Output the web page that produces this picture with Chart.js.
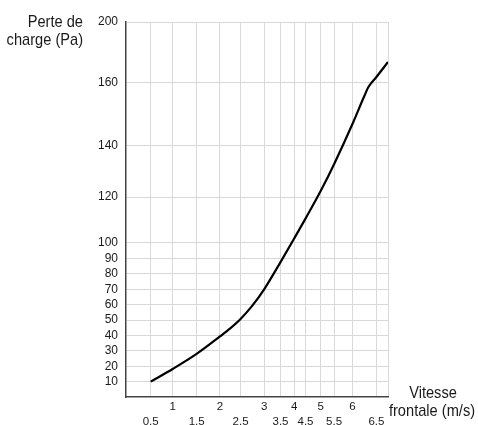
<!DOCTYPE html>
<html>
<head>
<meta charset="utf-8">
<script src="https://cdn.jsdelivr.net/npm/chart.js@4"></script>
<style>
  html, body { margin: 0; padding: 0; background: #fff; }
  #wrap { width: 478px; height: 425px; position: relative; }
</style>
</head>
<body>
<div id="wrap"><canvas id="graph1"></canvas></div>
<script>
// Valeurs
const vitesse = [0.5, 1, 1.5, 2, 2.25, 2.5, 2.75, 3, 3.5, 4, 4.5, 5, 5.5, 6, 6.25, 6.33, 6.5, 6.75];
const perte   = [10, 18.2, 28, 39.3, 44.6, 50.7, 59.3, 69.9, 87.6, 101.9, 110.6, 122.4, 132.7, 146.8, 155.8, 158.5, 163.7, 173.6];

const xTicks = [0.5, 1, 1.5, 2, 2.5, 3, 3.5, 4, 4.5, 5, 5.5, 6, 6.5, 6.75];
const yTicks = [10, 20, 30, 40, 50, 60, 70, 80, 90, 100, 120, 140, 160, 200];

// Echelles non lineaires du dessin original (valeur -> position relative)
const warps = {
    x: {
        values: [0, 0.5, 1, 1.5, 2, 2.5, 3, 3.5, 4, 4.5, 5, 5.5, 6, 6.5, 6.75],
        pos:    [0, 24.7, 46.7, 70.7, 94, 114.7, 138.3, 154.7, 168.3, 179.7, 195, 208.3, 226.7, 250.7, 262.3]
    },
    y: {
        values: [0, 100, 120, 140, 160, 200],
        pos:    [0, 154, 200, 251.7, 314.4, 375]
    }
};

function toDecimal(w, v) {
    const vs = w.values, ps = w.pos, total = ps[ps.length - 1];
    let i = 0;
    while (i < vs.length - 2 && v > vs[i + 1]) i++;
    const t = (v - vs[i]) / (vs[i + 1] - vs[i]);
    return (ps[i] + t * (ps[i + 1] - ps[i])) / total;
}

function fromDecimal(w, d) {
    const vs = w.values, ps = w.pos, total = ps[ps.length - 1];
    const p = d * total;
    let i = 0;
    while (i < ps.length - 2 && p > ps[i + 1]) i++;
    const t = (p - ps[i]) / (ps[i + 1] - ps[i]);
    return vs[i] + t * (vs[i + 1] - vs[i]);
}

class WarpScale extends Chart.LinearScale {
    getPixelForValue(value) {
        if (value === null || value === undefined) return NaN;
        return this.getPixelForDecimal(toDecimal(warps[this.id], value));
    }
    getValueForPixel(pixel) {
        return fromDecimal(warps[this.id], this.getDecimalForPixel(pixel));
    }
}
WarpScale.id = 'warp';
WarpScale.defaults = {};
Chart.register(WarpScale);

const fontFamily = "'Liberation Sans', Arial, sans-serif";

// Titres des axes (police un peu resserree comme l'original)
function condensedText(ctx, text, x, y, align) {
    ctx.save();
    ctx.translate(x, y);
    ctx.scale(0.86, 1);
    ctx.textAlign = align;
    ctx.fillText(text, 0, 0);
    ctx.restore();
}

const axisTitles = {
    id: 'axisTitles',
    afterDraw(chart) {
        const ctx = chart.ctx;
        ctx.save();
        ctx.fillStyle = '#1a1a1a';
        ctx.font = '17px ' + fontFamily;
        ctx.textBaseline = 'alphabetic';
        condensedText(ctx, 'Perte de', 83, 27, 'right');
        condensedText(ctx, 'charge (Pa)', 83, 45, 'right');
        condensedText(ctx, 'Vitesse', 433, 398, 'center');
        condensedText(ctx, 'frontale (m/s)', 432, 416, 'center');
        ctx.restore();
    }
};

const config = {
    type: 'line',
    data: {
        datasets: [{
            data: vitesse.map((v, i) => ({x: v, y: perte[i]})),
            borderColor: '#000',
            borderWidth: 2.2,
            pointRadius: 0,
            cubicInterpolationMode: 'monotone',
            fill: false
        }]
    },
    options: {
        responsive: true,
        maintainAspectRatio: false,
        animation: false,
        layout: { padding: { top: 22, right: 90, left: 0, bottom: 0 } },
        plugins: {
            legend: { display: false },
            tooltip: { enabled: false }
        },
        scales: {
            x: {
                type: 'warp',
                min: 0,
                max: 6.75,
                afterBuildTicks: scale => { scale.ticks = xTicks.map(v => ({value: v})); },
                afterFit: scale => { scale.height = 28; },
                grid: { color: '#d9d9d9', lineWidth: 1, drawTicks: false },
                border: { color: '#444', width: 1.5 },
                ticks: {
                    autoSkip: false,
                    maxRotation: 0,
                    minRotation: 0,
                    padding: 3,
                    color: '#1a1a1a',
                    font: { family: fontFamily, size: 11.5, lineHeight: 1.25 },
                    callback: function(value) {
                        if (value === 6.75) return '';
                        const whole = Math.abs(value - Math.round(value)) < 1e-9;
                        return whole ? String(value) : ['', String(value)];
                    }
                }
            },
            y: {
                type: 'warp',
                min: 0,
                max: 200,
                afterBuildTicks: scale => { scale.ticks = yTicks.map(v => ({value: v})); },
                afterFit: scale => { scale.width = 126; },
                grid: { color: '#d9d9d9', lineWidth: 1, drawTicks: false },
                border: { color: '#444', width: 1.5 },
                ticks: {
                    padding: 8,
                    color: '#1a1a1a',
                    font: { family: fontFamily, size: 12 },
                    callback: value => String(value)
                }
            }
        }
    },
    plugins: [axisTitles]
};

const chart = new Chart(document.getElementById('graph1'), config);
</script>
</body>
</html>
